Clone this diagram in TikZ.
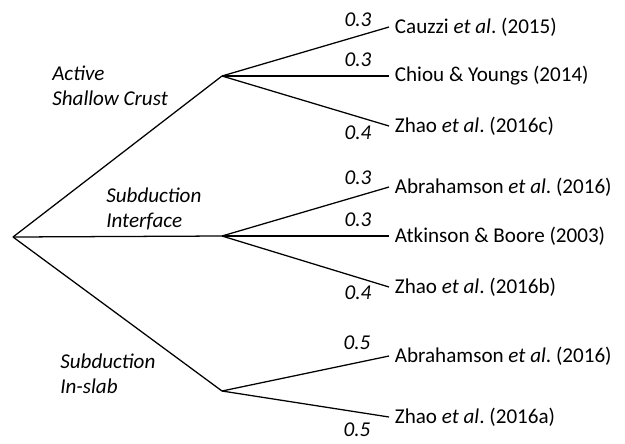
\documentclass[tikz,border=0pt]{standalone}
\usepackage{fontspec}
\setmainfont{Carlito}
\frenchspacing
\begin{document}
\begin{tikzpicture}[x=0.025cm, y=-0.025cm,
  every node/.style={font=\fontsize{15}{17.8}\selectfont},
  leaf/.style={anchor=west, inner sep=4pt},
  wt/.style={font=\fontsize{15}{17.8}\selectfont\itshape, inner sep=0pt},
  cat/.style={font=\fontsize{15}{17.8}\selectfont\itshape, align=left, anchor=west, inner sep=0pt},
  thinbr/.style={line width=0.9pt},
  thickbr/.style={line width=2.1pt}]
\useasboundingbox (0,0) rectangle (625,443);
% branch points
\coordinate (root) at (13,237);
\coordinate (asc) at (222,76);
\coordinate (sif) at (222,236);
\coordinate (sis) at (222,391);
% tectonic regions
\node[cat] (lasc) at (52,86) {Active\\Shallow Crust};
\node[cat] (lsif) at (106,209) {Subduction\\Interface};
\node[cat] (lsis) at (60,374) {Subduction\\In-slab};
% models
\node[leaf] (cau) at (389,27) {Cauzzi \textit{et al}. (2015)};
\node[leaf] (cy) at (389,76) {Chiou \& Youngs (2014)};
\node[leaf] (zhc) at (389,126) {Zhao \textit{et al}. (2016c)};
\node[leaf] (abi) at (389,187) {Abrahamson \textit{et al}. (2016)};
\node[leaf] (ab) at (389,236) {Atkinson \& Boore (2003)};
\node[leaf] (zhb) at (389,287) {Zhao \textit{et al}. (2016b)};
\node[leaf] (abs) at (389,356) {Abrahamson \textit{et al}. (2016)};
\node[leaf] (zha) at (389,417) {Zhao \textit{et al}. (2016a)};
% weights
\node[wt] (w1) at (358,20) {0.3};
\node[wt] (w2) at (358,60) {0.3};
\node[wt] (w3) at (358,133) {0.4};
\node[wt] (w4) at (358,178) {0.3};
\node[wt] (w5) at (358,220) {0.3};
\node[wt] (w6) at (358,293) {0.4};
\node[wt] (w7) at (357,343) {0.5};
\node[wt] (w8) at (357,430) {0.5};
% branches
\draw[thinbr] (root) -- (asc);
\draw[thinbr] (root) -- (sif);
\draw[thinbr] (root) -- (sis);
\draw[thinbr] (asc) -- (cau.west);
\draw[thickbr] (asc) -- (cy.west);
\draw[thinbr] (asc) -- (zhc.west);
\draw[thinbr] (sif) -- (abi.west);
\draw[thickbr] (sif) -- (ab.west);
\draw[thinbr] (sif) -- (zhb.west);
\draw[thinbr] (sis) -- (abs.west);
\draw[thinbr] (sis) -- (zha.west);
\end{tikzpicture}
\end{document}
